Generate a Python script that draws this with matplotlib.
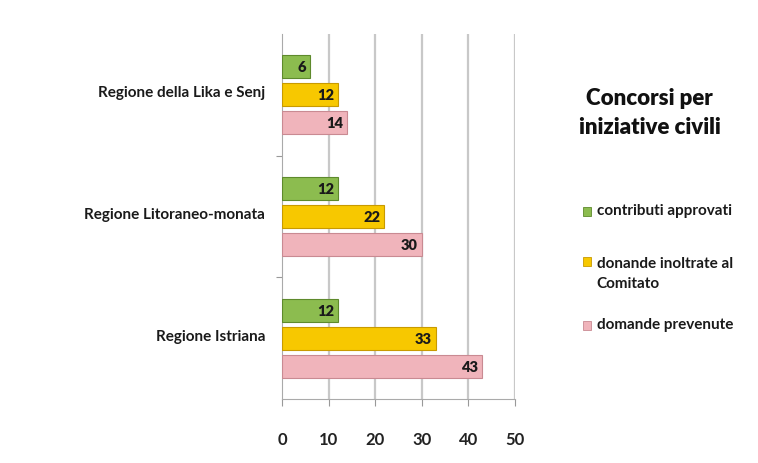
import matplotlib.pyplot as plt
import numpy as np

categories = ["Regione Istriana", "Regione Litoraneo-monata", "Regione della Lika e Senj"]
series_names = ["contributi approvati", "donande inoltrate al\nComitato", "domande prevenute"]
contributi = [12, 12, 6]
donande = [33, 22, 12]
prevenute = [43, 30, 14]
xticks = [0, 10, 20, 30, 40, 50]

colors = ["#8cbc4f", "#f7c800", "#f0b4bb"]
edges = ["#5e8a2c", "#c89a00", "#c98a92"]

fig = plt.figure(figsize=(7.58, 4.64), dpi=100)
fig.patch.set_facecolor("white")
ax = fig.add_axes([0.372, 0.138, 0.307, 0.787])
ax.set_facecolor("white")

y = np.arange(len(categories))
h = 0.19
offs = [0.23, 0.0, -0.23]
for vals, off, c, e in zip([contributi, donande, prevenute], offs, colors, edges):
    ax.barh(y + off, vals, height=h, color=c, edgecolor=e, linewidth=0.8, zorder=3)
    for yy, v in zip(y + off, vals):
        ax.text(v - 0.8, yy, str(v), ha="right", va="center", fontsize=10.5,
                fontweight="heavy", color="#1a1a1a", family="Lato", zorder=4)

ax.set_xlim(0, 50)
ax.set_ylim(-0.5, 2.5)
ax.set_xticks(xticks)
ax.set_xticklabels([str(t) for t in xticks], fontsize=12, fontweight="bold", family="Lato", color="#222222")
ax.set_yticks([0.5, 1.5])
ax.set_yticklabels([])
ax.tick_params(axis="y", length=4, color="#999999")
ax.tick_params(axis="x", length=5, color="#999999", pad=18)
for xv in xticks[1:]:
    ax.axvline(xv, color="#c8c8c8", linewidth=1.6, zorder=1)
for s in ["top", "right"]:
    ax.spines[s].set_visible(False)
ax.spines["left"].set_color("#aaaaaa")
ax.spines["bottom"].set_color("#aaaaaa")

for yy, cat in zip(y, categories):
    ax.text(-3.6, yy + 0.02, cat, ha="right", va="center", fontsize=11,
            family="Lato", fontweight="bold", color="#1a1a1a")

fig.text(0.857, 0.757, "Concorsi per\niniziative civili", ha="center", va="center",
         fontsize=16, fontweight="heavy", family="Lato", color="#111111", linespacing=1.45)

legend_patch_y = [0.543, 0.435, 0.298]
legend_text_y = [0.545, 0.41, 0.300]
for py, ty, name, c, e in zip(legend_patch_y, legend_text_y, series_names, colors, edges):
    fig.patches.append(plt.Rectangle((0.769, py - 0.011), 0.011, 0.02,
                                     transform=fig.transFigure, facecolor=c, edgecolor=e, linewidth=0.6))
    fig.text(0.787, ty, name, ha="left", va="center",
             fontsize=11, family="Lato", fontweight="bold", color="#1a1a1a", linespacing=1.55)

fig.savefig("out.png", dpi=100, facecolor="white")
